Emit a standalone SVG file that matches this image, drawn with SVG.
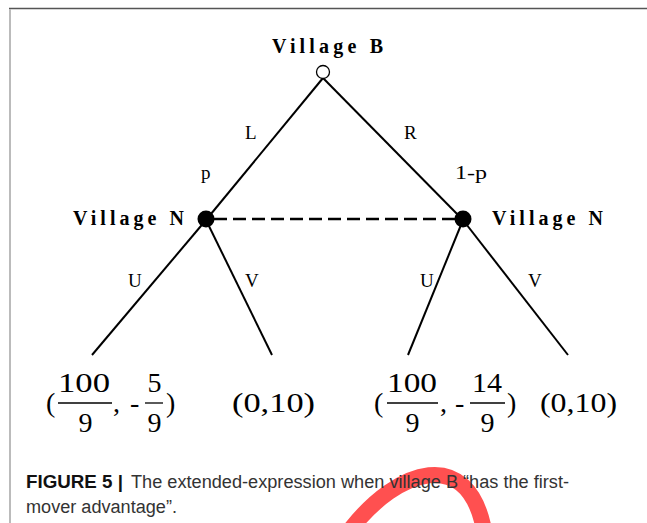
<svg xmlns="http://www.w3.org/2000/svg" width="647" height="523" viewBox="0 0 647 523">
<style>
.nodeLbl{font-family:"Liberation Serif",serif;font-weight:bold;font-size:20px;fill:#000}
.edgeLbl{font-family:"Liberation Serif",serif;font-size:19px;fill:#000}
.pay{font-family:"Liberation Serif",serif;font-size:28px;fill:#000}
.edge{stroke:#000;stroke-width:2;fill:none}
.bar{stroke:#000;stroke-width:1.3}
.cap{font-family:"Liberation Sans",Arial,sans-serif;font-size:18px;fill:#333}
.capb{font-family:"Liberation Sans",Arial,sans-serif;font-size:18px;font-weight:bold;fill:#111}
</style>
<rect x="0" y="0" width="647" height="523" fill="#fff"/>
<line x1="9" y1="8.5" x2="647" y2="8.5" stroke="#555" stroke-width="1.5"/>
<line x1="10" y1="9" x2="10" y2="523" stroke="#bbb" stroke-width="2"/>
<path d="M350 530 C398 468 468 446 484 530" stroke="#ff5050" stroke-width="16" fill="none"/>
<g id="connectors">
<line class="edge" x1="323" y1="78" x2="206" y2="220"/>
<line class="edge" x1="323" y1="78" x2="463" y2="220"/>
<line x1="214" y1="219" x2="456" y2="219" stroke="#000" stroke-width="2.6" stroke-dasharray="13,6"/>
<line class="edge" x1="206" y1="220" x2="92" y2="355"/>
<line class="edge" x1="206" y1="220" x2="272" y2="355"/>
<line class="edge" x1="463" y1="220" x2="408" y2="355"/>
<line class="edge" x1="463" y1="220" x2="568" y2="355"/>
<text class="edgeLbl" x="245" y="139">L</text>
<text class="edgeLbl" x="404" y="139">R</text>
<text class="edgeLbl" x="201" y="179">p</text>
<text class="edgeLbl" x="455" y="179" textLength="32" lengthAdjust="spacingAndGlyphs">1-p</text>
<text class="edgeLbl" x="128" y="287">U</text>
<text class="edgeLbl" x="245" y="287">V</text>
<text class="edgeLbl" x="420" y="287">U</text>
<text class="edgeLbl" x="528" y="287">V</text>
</g>
<g id="node-B">
<circle cx="323" cy="72" r="6.5" fill="#fff" stroke="#000" stroke-width="1.3"/>
<text class="nodeLbl" x="272" y="53" textLength="111" lengthAdjust="spacing">Village B</text>
</g>
<g id="node-N1">
<circle cx="206" cy="219" r="8.5" fill="#000"/>
<text class="nodeLbl" x="73" y="225" textLength="111" lengthAdjust="spacing">Village N</text>
</g>
<g id="node-N2">
<circle cx="463" cy="219" r="8.5" fill="#000"/>
<text class="nodeLbl" x="492" y="225" textLength="111" lengthAdjust="spacing">Village N</text>
</g>
<g id="payoff-1">
<text class="pay" x="46" y="412">(</text>
<text class="pay" x="58" y="392" textLength="52" lengthAdjust="spacingAndGlyphs">100</text>
<line class="bar" x1="58" y1="403" x2="112" y2="403"/>
<text class="pay" x="85.5" y="432" text-anchor="middle">9</text>
<text class="pay" x="113" y="412">,</text>
<text class="pay" x="130" y="412">-</text>
<text class="pay" x="154.5" y="392" text-anchor="middle">5</text>
<line class="bar" x1="145" y1="403" x2="163" y2="403"/>
<text class="pay" x="154.5" y="432" text-anchor="middle">9</text>
<text class="pay" x="166" y="412">)</text>
</g>
<g id="payoff-2">
<text class="pay" x="232" y="412" textLength="83" lengthAdjust="spacingAndGlyphs">(0,10)</text>
</g>
<g id="payoff-3">
<text class="pay" x="374" y="412">(</text>
<text class="pay" x="387" y="392" textLength="50" lengthAdjust="spacingAndGlyphs">100</text>
<line class="bar" x1="387" y1="403" x2="438" y2="403"/>
<text class="pay" x="412.5" y="432" text-anchor="middle">9</text>
<text class="pay" x="440" y="412">,</text>
<text class="pay" x="455" y="412">-</text>
<text class="pay" x="472" y="392" textLength="30" lengthAdjust="spacingAndGlyphs">14</text>
<line class="bar" x1="470" y1="403" x2="505" y2="403"/>
<text class="pay" x="487.5" y="432" text-anchor="middle">9</text>
<text class="pay" x="507" y="412">)</text>
</g>
<g id="payoff-4">
<text class="pay" x="540" y="412" textLength="77" lengthAdjust="spacingAndGlyphs">(0,10)</text>
</g>
<g id="caption">
<text class="capb" x="26" y="488" textLength="97" lengthAdjust="spacingAndGlyphs">FIGURE 5 |</text>
<text class="cap" x="131" y="488" textLength="438" lengthAdjust="spacingAndGlyphs">The extended-expression when village B “has the first-</text>
<text class="cap" x="26" y="513" textLength="151" lengthAdjust="spacingAndGlyphs">mover advantage”.</text>
</g>
</svg>
